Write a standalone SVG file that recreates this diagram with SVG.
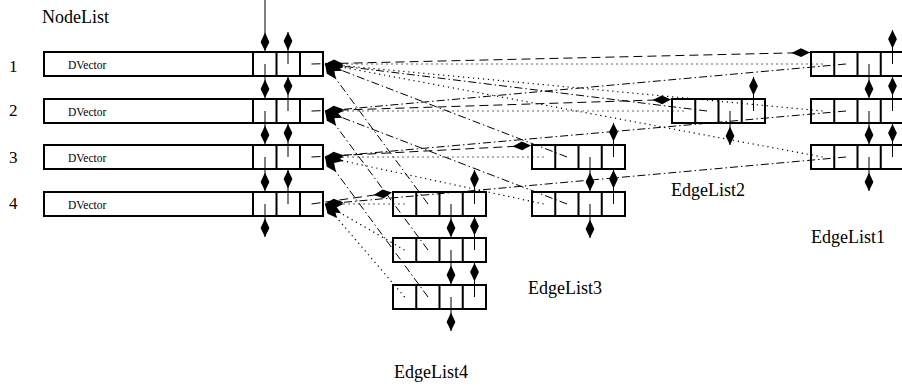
<svg xmlns="http://www.w3.org/2000/svg" width="902" height="389" viewBox="0 0 902 389">
  <defs>
    <marker id="dia" viewBox="-19 -5 19 10" refX="0" refY="0" markerWidth="19" markerHeight="10" orient="auto" markerUnits="userSpaceOnUse">
      <path d="M0,0 L-9,-4.4 L-18.5,0 L-9,4.4 Z" fill="#000"/>
    </marker>
  </defs>
  <style>
    .box { fill: none; stroke: #000; stroke-width: 2; }
    .cell { stroke: #000; stroke-width: 2; }
    .lbl { font-family: "Liberation Serif", "Times New Roman", serif; font-size: 18px; fill: #000; }
    .num { font-family: "Liberation Serif", "Times New Roman", serif; font-size: 17px; fill: #000; }
    .dv { font-family: "Liberation Serif", "Times New Roman", serif; font-size: 11.5px; fill: #000; }
    .ptr { fill: none; stroke: #000; stroke-width: 1; marker-end: url(#dia); }
    .dash { stroke-dasharray: 9 5; }
    .dot { stroke-dasharray: 1.2 3.8; stroke-width: 1.2; }
    .dd { stroke-dasharray: 8 3 1.5 3; }
  </style>
  <rect width="902" height="389" fill="#fff"/>

  <!-- node list -->
  <text class="lbl" x="42" y="23">NodeList</text>
  <g id="node1">
    <text class="num" x="9" y="72">1</text>
    <rect class="box" x="44" y="52" width="279" height="24"/>
    <path class="cell" d="M253,52V76M276.5,52V76M300,52V76"/>
    <text class="dv" x="68" y="69">DVector</text>
  </g>
  <g id="node2">
    <text class="num" x="9" y="116">2</text>
    <rect class="box" x="44" y="99" width="279" height="24"/>
    <path class="cell" d="M253,99V123M276.5,99V123M300,99V123"/>
    <text class="dv" x="68" y="116">DVector</text>
  </g>
  <g id="node3">
    <text class="num" x="9" y="163">3</text>
    <rect class="box" x="44" y="145" width="279" height="24"/>
    <path class="cell" d="M253,145V169M276.5,145V169M300,145V169"/>
    <text class="dv" x="68" y="162">DVector</text>
  </g>
  <g id="node4">
    <text class="num" x="9" y="209">4</text>
    <rect class="box" x="44" y="192" width="279" height="24"/>
    <path class="cell" d="M253,192V216M276.5,192V216M300,192V216"/>
    <text class="dv" x="68" y="209">DVector</text>
  </g>

  <!-- edge list 1 -->
  <g id="edge1a">
    <rect class="box" x="811" y="52" width="93" height="24"/>
    <path class="cell" d="M834.25,52V76M857.5,52V76M880.75,52V76"/>
  </g>
  <g id="edge1b">
    <rect class="box" x="811" y="99" width="93" height="24"/>
    <path class="cell" d="M834.25,99V123M857.5,99V123M880.75,99V123"/>
  </g>
  <g id="edge1c">
    <rect class="box" x="811" y="145" width="93" height="24"/>
    <path class="cell" d="M834.25,145V169M857.5,145V169M880.75,145V169"/>
  </g>
  <text class="lbl" x="811" y="243">EdgeList1</text>

  <!-- edge list 2 -->
  <g id="edge2a">
    <rect class="box" x="672" y="99" width="93" height="24"/>
    <path class="cell" d="M695.25,99V123M718.5,99V123M741.75,99V123"/>
  </g>
  <text class="lbl" x="671" y="196">EdgeList2</text>

  <!-- edge list 3 -->
  <g id="edge3a">
    <rect class="box" x="532" y="145" width="93" height="24"/>
    <path class="cell" d="M555.25,145V169M578.5,145V169M601.75,145V169"/>
  </g>
  <g id="edge3b">
    <rect class="box" x="532" y="192" width="93" height="24"/>
    <path class="cell" d="M555.25,192V216M578.5,192V216M601.75,192V216"/>
  </g>
  <text class="lbl" x="528" y="294">EdgeList3</text>

  <!-- edge list 4 -->
  <g id="edge4a">
    <rect class="box" x="393" y="192" width="93" height="24"/>
    <path class="cell" d="M416.25,192V216M439.5,192V216M462.75,192V216"/>
  </g>
  <g id="edge4b">
    <rect class="box" x="393" y="238" width="93" height="24"/>
    <path class="cell" d="M416.25,238V262M439.5,238V262M462.75,238V262"/>
  </g>
  <g id="edge4c">
    <rect class="box" x="393" y="285" width="93" height="24"/>
    <path class="cell" d="M416.25,285V309M439.5,285V309M462.75,285V309"/>
  </g>
  <text class="lbl" x="394" y="378">EdgeList4</text>

  <g id="connectors">
    <!-- node list links -->
    <path class="ptr" d="M265,0V51"/>
    <path class="ptr" d="M265,64V98"/>
    <path class="ptr" d="M265,111V144"/>
    <path class="ptr" d="M265,157V191"/>
    <path class="ptr" d="M265,204V237"/>
    <path class="ptr" d="M288,64V32"/>
    <path class="ptr" d="M288,111V77"/>
    <path class="ptr" d="M288,157V124"/>
    <path class="ptr" d="M288,204V170"/>

    <!-- edge list links -->
    <path class="ptr" d="M869,64V98"/>
    <path class="ptr" d="M869,111V144"/>
    <path class="ptr" d="M869,157V191"/>
    <path class="ptr" d="M892.5,64V30"/>
    <path class="ptr" d="M892.5,111V77"/>
    <path class="ptr" d="M892.5,157V124"/>

    <path class="ptr" d="M730,111V145"/>
    <path class="ptr" d="M753.5,111V77"/>

    <path class="ptr" d="M590,157V191"/>
    <path class="ptr" d="M590,204V238"/>
    <path class="ptr" d="M613.5,157V123"/>
    <path class="ptr" d="M613.5,204V170"/>

    <path class="ptr" d="M451,204V237"/>
    <path class="ptr" d="M451,250V284"/>
    <path class="ptr" d="M451,297V331"/>
    <path class="ptr" d="M474.5,204V170"/>
    <path class="ptr" d="M474.5,250V217"/>
    <path class="ptr" d="M474.5,297V263"/>

    <!-- node to its edge list -->
    <path class="ptr dash" d="M311.5,64L810,52.5"/>
    <path class="ptr dash" d="M311.5,111L671,99.5"/>
    <path class="ptr dash" d="M311.5,157L531,145.5"/>
    <path class="ptr dash" d="M311.5,204L392,192.5"/>

    <!-- edge source -->
    <path class="ptr dot" d="M822.6,64L325,64"/>
    <path class="ptr dot" d="M822.6,111L325,64"/>
    <path class="ptr dot" d="M822.6,157L325,64"/>
    <path class="ptr dot" d="M683.6,111L325,111"/>
    <path class="ptr dot" d="M543.6,157L325,157"/>
    <path class="ptr dot" d="M543.6,204L325,157"/>
    <path class="ptr dot" d="M404.6,204L325,204"/>
    <path class="ptr dot" d="M404.6,250L325,204"/>
    <path class="ptr dot" d="M404.6,297L325,204"/>

    <!-- edge target -->
    <path class="ptr dd" d="M846,64L325,111"/>
    <path class="ptr dd" d="M846,111L325,157"/>
    <path class="ptr dd" d="M846,157L325,204"/>
    <path class="ptr dd" d="M707,111L325,64"/>
    <path class="ptr dd" d="M567,157L325,64"/>
    <path class="ptr dd" d="M567,204L325,111"/>
    <path class="ptr dd" d="M428,204L325,64"/>
    <path class="ptr dd" d="M428,250L325,111"/>
    <path class="ptr dd" d="M428,297L325,157"/>
  </g>
</svg>
